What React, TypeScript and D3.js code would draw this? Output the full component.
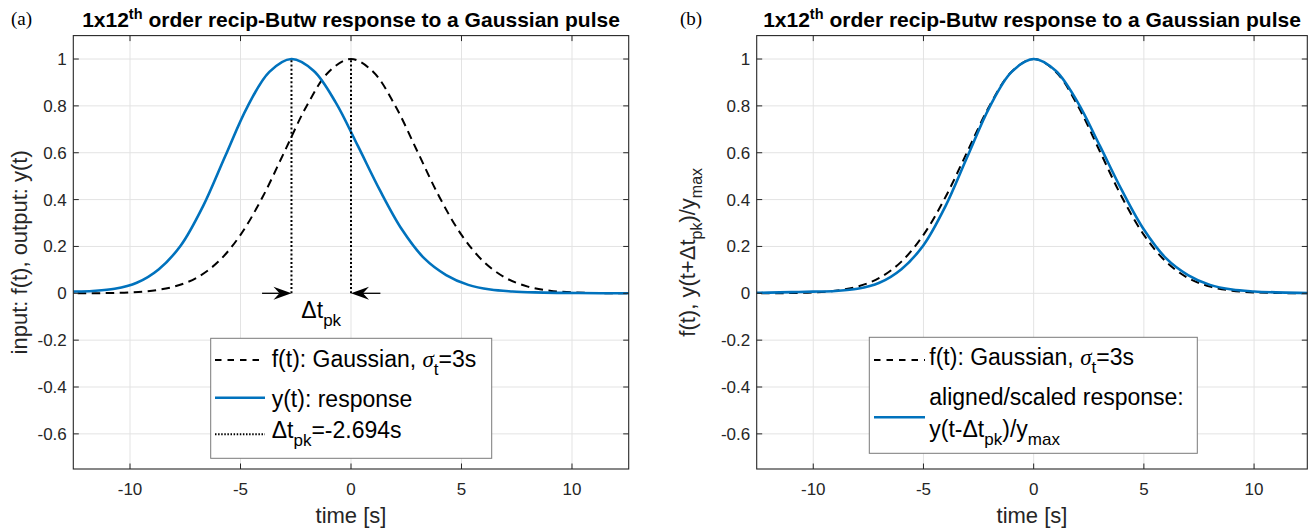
import React, { useEffect } from 'react';
import * as d3 from 'd3';

// ---------------- data ----------------
// input Gaussian pulse f(t), sigma_t = 3 s
const gaussT = [-13, -12, -11, -10, -9, -8, -7, -6, -5, -4, -3, -2, -1, 0, 1, 2, 3, 4, 5, 6, 7, 8, 9, 10, 11, 12, 13];
const gaussF = [0.0001, 0.0003, 0.0012, 0.0039, 0.0111, 0.0286, 0.0657, 0.1353, 0.2494, 0.4111, 0.6065, 0.8007, 0.946, 1.0, 0.946, 0.8007, 0.6065, 0.4111, 0.2494, 0.1353, 0.0657, 0.0286, 0.0111, 0.0039, 0.0012, 0.0003, 0.0001];
// aligned / scaled response y(t+dt_pk)/y_max, sampled on its own time axis
const alignT = [-13, -12, -11, -10, -9, -8, -7, -6, -5, -4, -3, -2, -1, 0, 1, 2, 3, 4, 5, 6, 7, 8, 9, 10, 11, 12, 13, 14, 15, 16];
const alignY = [0.002, 0.003, 0.005, 0.007, 0.01, 0.019, 0.045, 0.103, 0.205, 0.372, 0.585, 0.795, 0.945, 1.0, 0.95, 0.815, 0.63, 0.44, 0.272, 0.15, 0.078, 0.036, 0.016, 0.008, 0.004, 0.002, 0.001, 0.0005, 0.0002, 0.0001];
const dtPk = -2.694; // peak delay [s]
const yMax = 1.0;
const sigmaT = 3;
const arrowSpan = 1.33; // length of the delta-t arrows in seconds

const xTicks = [-10, -5, 0, 5, 10];
const yTicks = [-0.6, -0.4, -0.2, 0, 0.2, 0.4, 0.6, 0.8, 1];
const yLim: [number, number] = [-0.75, 1.1];
const xLimA: [number, number] = [-4 * Math.PI, 4 * Math.PI];
const xLimB: [number, number] = [-4 * Math.PI, 12.415];

const titleMain = '1x12';
const titleSup = 'th';
const titleRest = ' order recip-Butw response to a Gaussian pulse';

// ---------------- styling ----------------
const SANS = '"Liberation Sans", Arial, Helvetica, sans-serif';
const SERIF = '"Liberation Serif", "Times New Roman", serif';
const BLUE = '#0072BD';
const AX = '#262626';
const GRID = '#e3e3e3';

const W = 1312;
const H = 531;

type Sc = d3.ScaleLinear<number, number>;

function Frame({ x, y, id }: { x: Sc; y: Sc; id: string }) {
  const [L, R] = x.range();
  const [B, T] = y.range();
  return (
    <g>
      {xTicks.map((t) => (
        <line key={'gx' + t} x1={x(t)} x2={x(t)} y1={T} y2={B} stroke={GRID} strokeWidth={1} />
      ))}
      {yTicks.map((t) => (
        <line key={'gy' + t} x1={L} x2={R} y1={y(t)} y2={y(t)} stroke={GRID} strokeWidth={1} />
      ))}
      <defs>
        <clipPath id={id}>
          <rect x={L} y={T} width={R - L} height={B - T} />
        </clipPath>
      </defs>
    </g>
  );
}

function Box({ x, y }: { x: Sc; y: Sc }) {
  const [L, R] = x.range();
  const [B, T] = y.range();
  const tl = 5.5;
  const fmt = (v: number) => String(+v.toFixed(1));
  return (
    <g>
      <rect x={L} y={T} width={R - L} height={B - T} fill="none" stroke={AX} strokeWidth={1.1} />
      {xTicks.map((t) => (
        <g key={'tx' + t}>
          <line x1={x(t)} x2={x(t)} y1={B} y2={B - tl} stroke={AX} />
          <line x1={x(t)} x2={x(t)} y1={T} y2={T + tl} stroke={AX} />
          <text x={x(t)} y={B + 26} textAnchor="middle" fontFamily={SANS} fontSize={17} fill={AX}>
            {fmt(t)}
          </text>
        </g>
      ))}
      {yTicks.map((t) => (
        <g key={'ty' + t}>
          <line x1={L} x2={L + tl} y1={y(t)} y2={y(t)} stroke={AX} />
          <line x1={R} x2={R - tl} y1={y(t)} y2={y(t)} stroke={AX} />
          <text x={L - 6.5} y={y(t)} dy="0.35em" textAnchor="end" fontFamily={SANS} fontSize={17} fill={AX}>
            {fmt(t)}
          </text>
        </g>
      ))}
    </g>
  );
}

function Title({ cx }: { cx: number }) {
  return (
    <text x={cx} y={26.5} textAnchor="middle" fontFamily={SANS} fontWeight="bold" fontSize={21} fill="#000">
      {titleMain}
      <tspan fontSize={14.5} dy={-8}>{titleSup}</tspan>
      <tspan dy={8}>{titleRest}</tspan>
    </text>
  );
}

function Arrow({ x1, x2, yv }: { x1: number; x2: number; yv: number }) {
  const dir = Math.sign(x2 - x1);
  const hl = 18;
  const hw = 6.5;
  const notch = 12;
  const p = `M${x2},${yv} L${x2 - dir * hl},${yv - hw} L${x2 - dir * notch},${yv} L${x2 - dir * hl},${yv + hw} Z`;
  return (
    <g>
      <line x1={x1} x2={x2 - dir * notch} y1={yv} y2={yv} stroke="#000" strokeWidth={1.3} />
      <path d={p} fill="#000" />
    </g>
  );
}

export default function App() {
  useEffect(() => {
    document.body.style.margin = '0';
  }, []);

  const yA = d3.scaleLinear().domain(yLim).range([469, 35.6]);
  const xA = d3.scaleLinear().domain(xLimA).range([73.3, 628.7]);
  const yB = d3.scaleLinear().domain(yLim).range([469, 35.6]);
  const xB = d3.scaleLinear().domain(xLimB).range([756.7, 1307.3]);

  const gauss = gaussT.map((t, i) => [t, gaussF[i]] as [number, number]);
  const resp = alignT.map((t, i) => [t + dtPk, alignY[i] * yMax] as [number, number]);
  const aligned = alignT.map((t, i) => [t, alignY[i]] as [number, number]);

  const lineA = d3.line<[number, number]>().x((d) => xA(d[0])).y((d) => yA(d[1])).curve(d3.curveCatmullRom.alpha(0.5));
  const lineB = d3.line<[number, number]>().x((d) => xB(d[0])).y((d) => yB(d[1])).curve(d3.curveCatmullRom.alpha(0.5));

  const dashed = '8.5,5.5';
  const dotted = '2,2.2';

  return (
    <svg width={W} height={H} style={{ position: 'absolute', left: 0, top: 0, display: 'block', background: '#fff' }}>
      <rect x={0} y={0} width={W} height={H} fill="#fff" />

      {/* ---------- panel (a) ---------- */}
      <Frame x={xA} y={yA} id="clipA" />
      <g clipPath="url(#clipA)">
        <path d={lineA(gauss) || ''} fill="none" stroke="#000" strokeWidth={2} strokeDasharray={dashed} />
        <path d={lineA(resp) || ''} fill="none" stroke={BLUE} strokeWidth={2.6} />
        <line x1={xA(dtPk)} x2={xA(dtPk)} y1={yA(0)} y2={yA(1)} stroke="#000" strokeWidth={2} strokeDasharray={dotted} />
        <line x1={xA(0)} x2={xA(0)} y1={yA(0)} y2={yA(1)} stroke="#000" strokeWidth={2} strokeDasharray={dotted} />
      </g>
      <Box x={xA} y={yA} />
      <Arrow x1={xA(dtPk - arrowSpan)} x2={xA(dtPk)} yv={yA(0)} />
      <Arrow x1={xA(arrowSpan)} x2={xA(0)} yv={yA(0)} />
      <text x={xA(dtPk / 2)} y={318} textAnchor="middle" fontFamily={SANS} fontSize={23} fill="#000">
        Δt<tspan fontSize={17} dy={8}>pk</tspan>
      </text>
      <Title cx={(xA.range()[0] + xA.range()[1]) / 2} />
      <text x={11} y={25} fontFamily={SERIF} fontSize={19} fill="#000">(a)</text>
      <text transform={`translate(27,${(yA.range()[0] + yA.range()[1]) / 2}) rotate(-90)`} textAnchor="middle" fontFamily={SANS} fontSize={22} fill={AX}>
        input: f(t), output: y(t)
      </text>
      <text x={(xA.range()[0] + xA.range()[1]) / 2} y={523} textAnchor="middle" fontFamily={SANS} fontSize={22} fill={AX}>
        time [s]
      </text>

      {/* legend (a) */}
      <g>
        <rect x={210.7} y={338.3} width={281} height={120} fill="#fff" stroke="#7a7a7a" strokeWidth={1} />
        <line x1={215} x2={265} y1={360} y2={360} stroke="#000" strokeWidth={2} strokeDasharray="6.5,6" />
        <text x={271.7} y={366.7} fontFamily={SANS} fontSize={23} fill="#000">
          f(t): Gaussian, <tspan fontFamily={SERIF} fontStyle="italic">σ</tspan>
          <tspan fontSize={17} dy={8}>t</tspan>
          <tspan dy={-8}>={sigmaT}s</tspan>
        </text>
        <line x1={215} x2={265} y1={397.7} y2={397.7} stroke={BLUE} strokeWidth={2.6} />
        <text x={271.7} y={406.7} fontFamily={SANS} fontSize={23} fill="#000">y(t): response</text>
        <line x1={215} x2={265} y1={434.3} y2={434.3} stroke="#000" strokeWidth={2} strokeDasharray="1.5,1.6" />
        <text x={271.7} y={438.3} fontFamily={SANS} fontSize={23} fill="#000">
          Δt<tspan fontSize={17} dy={8}>pk</tspan>
          <tspan dy={-8}>={dtPk.toFixed(3)}s</tspan>
        </text>
      </g>

      {/* ---------- panel (b) ---------- */}
      <Frame x={xB} y={yB} id="clipB" />
      <g clipPath="url(#clipB)">
        <path d={lineB(gauss) || ''} fill="none" stroke="#000" strokeWidth={2} strokeDasharray={dashed} />
        <path d={lineB(aligned) || ''} fill="none" stroke={BLUE} strokeWidth={2.6} />
      </g>
      <Box x={xB} y={yB} />
      <Title cx={(xB.range()[0] + xB.range()[1]) / 2} />
      <text x={680} y={25} fontFamily={SERIF} fontSize={19} fill="#000">(b)</text>
      <text transform={`translate(695,${(yB.range()[0] + yB.range()[1]) / 2}) rotate(-90)`} textAnchor="middle" fontFamily={SANS} fontSize={22} fill={AX}>
        f(t), y(t+Δt<tspan fontSize={16} dy={7}>pk</tspan>
        <tspan dy={-7}>)/y</tspan>
        <tspan fontSize={16} dy={7}>max</tspan>
      </text>
      <text x={(xB.range()[0] + xB.range()[1]) / 2} y={523} textAnchor="middle" fontFamily={SANS} fontSize={22} fill={AX}>
        time [s]
      </text>

      {/* legend (b) */}
      <g>
        <rect x={869.3} y={337.3} width={328} height={116} fill="#fff" stroke="#7a7a7a" strokeWidth={1} />
        <line x1={874} x2={925} y1={360} y2={360} stroke="#000" strokeWidth={2} strokeDasharray="6.5,6" />
        <text x={929.3} y={365} fontFamily={SANS} fontSize={23} fill="#000">
          f(t): Gaussian, <tspan fontFamily={SERIF} fontStyle="italic">σ</tspan>
          <tspan fontSize={17} dy={8}>t</tspan>
          <tspan dy={-8}>={sigmaT}s</tspan>
        </text>
        <line x1={874} x2={925} y1={417.3} y2={417.3} stroke={BLUE} strokeWidth={2.6} />
        <text x={929.3} y={405} fontFamily={SANS} fontSize={23} fill="#000">aligned/scaled response:</text>
        <text x={929.3} y={437} fontFamily={SANS} fontSize={23} fill="#000">
          y(t-Δt<tspan fontSize={17} dy={8}>pk</tspan>
          <tspan dy={-8}>)/y</tspan>
          <tspan fontSize={17} dy={8}>max</tspan>
        </text>
      </g>
    </svg>
  );
}
